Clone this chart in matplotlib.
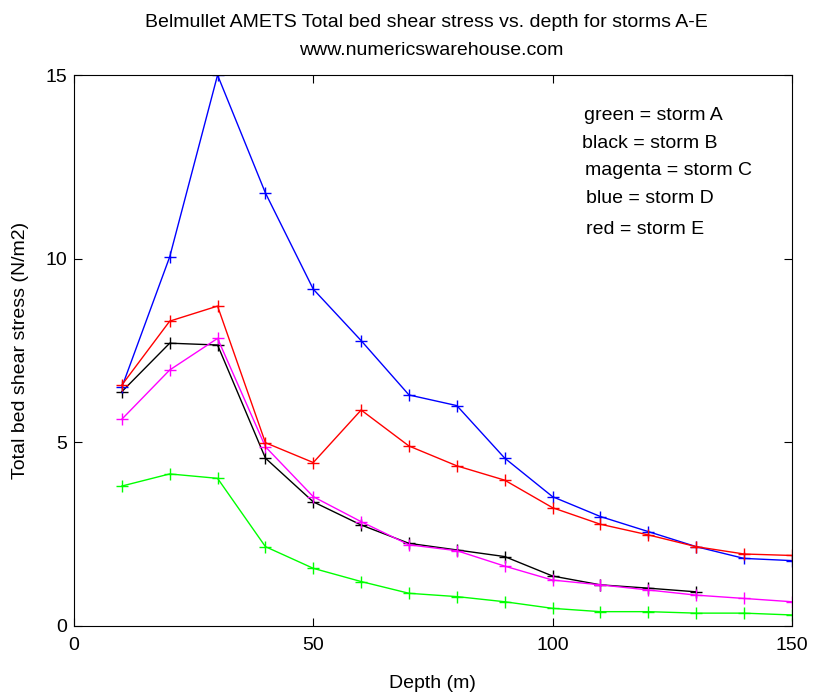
import matplotlib
matplotlib.use('Agg')
import matplotlib.pyplot as plt

# depths (m)
depth = [10, 20, 30, 40, 50, 60, 70, 80, 90, 100, 110, 120, 130, 140, 150]
depth_b = depth[:13]

# total bed shear stress (N/m2) per storm
storm_a = [3.81, 4.14, 4.02, 2.16, 1.57, 1.21, 0.89, 0.80, 0.66, 0.48, 0.39, 0.39, 0.35, 0.35, 0.30]
storm_b = [6.38, 7.70, 7.65, 4.57, 3.38, 2.75, 2.25, 2.07, 1.89, 1.36, 1.12, 1.03, 0.93]
storm_c = [5.63, 6.97, 7.83, 4.88, 3.52, 2.84, 2.21, 2.05, 1.63, 1.25, 1.12, 0.98, 0.84, 0.75, 0.66]
storm_d = [6.50, 10.05, 15.0, 11.79, 9.17, 7.77, 6.29, 6.00, 4.57, 3.52, 2.98, 2.57, 2.16, 1.84, 1.78]
storm_e = [6.56, 8.30, 8.71, 4.99, 4.45, 5.88, 4.90, 4.36, 3.97, 3.22, 2.77, 2.48, 2.16, 1.96, 1.92]

legend_lines = ['green = storm A', 'black = storm B', 'magenta = storm C',
                'blue = storm D', 'red = storm E']

plt.rcParams['font.family'] = 'Liberation Sans'
plt.rcParams['font.size'] = 14

fig = plt.figure(figsize=(8.13, 6.95), dpi=100)
ax = fig.add_axes([0.091, 0.0993, 0.883, 0.7927])

ms = 8
lw = 1.0
ax.plot(depth, storm_a, color='#00ff00', marker='+', ms=ms, lw=lw)
ax.plot(depth_b, storm_b, color='black', marker='+', ms=ms, lw=lw)
ax.plot(depth, storm_c, color='magenta', marker='+', ms=ms, lw=lw)
ax.plot(depth, storm_d, color='blue', marker='+', ms=ms, lw=lw)
ax.plot(depth, storm_e, color='red', marker='+', ms=ms, lw=lw)

ax.set_xlim(0, 150)
ax.set_ylim(0, 15)
ax.set_xticks([0, 50, 100, 150])
ax.set_yticks([0, 5, 10, 15])
ax.tick_params(direction='in', top=True, right=True, length=6, labelsize=14)
ax.tick_params(axis='y', pad=5)
ax.tick_params(axis='x', pad=8)

ax.set_xlabel('Depth (m)', fontsize=14)
ax.set_ylabel('Total bed shear stress (N/m2)', fontsize=14)
ax.xaxis.set_label_coords(0.5, -0.089)
ax.yaxis.set_label_coords(-0.063, 0.5)

fig.text(0.525, 0.968, 'Belmullet AMETS Total bed shear stress vs. depth for storms A-E',
         ha='center', va='center', fontsize=14)
fig.text(0.53, 0.928, 'www.numericswarehouse.com', ha='center', va='center', fontsize=14)

# colour key text, as in the original
ys = [13.9, 13.15, 12.4, 11.65, 10.8]
xs = [106.6, 106.2, 106.8, 107.0, 107.0]
for txt, x, y in zip(legend_lines, xs, ys):
    ax.text(x, y, txt, fontsize=14, va='center', ha='left')

fig.savefig('out.png', dpi=100)
